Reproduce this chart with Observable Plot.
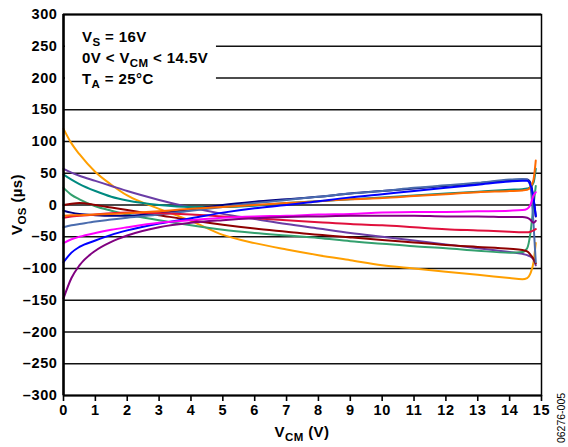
<!DOCTYPE html>
<html>
<head>
<meta charset="utf-8">
<script src="https://cdn.jsdelivr.net/npm/d3@7"></script>
<script src="https://cdn.jsdelivr.net/npm/@observablehq/plot@0.6"></script>
<style>
  html, body { margin: 0; padding: 0; background: #fff; }
  svg { font-family: "Liberation Sans", Arial, sans-serif; }
  g[aria-label="x-axis tick label"] text, g[aria-label="y-axis tick label"] text { letter-spacing: 0.6px; }
</style>
</head>
<body>
<div id="chart"></div>
<script>
// Common-mode voltage sample points (V)
const vcm = [0, 0.25, 0.5, 1, 1.5, 2, 3, 4, 5, 6, 7, 8, 9, 10, 11, 12, 13, 14, 14.4, 14.55, 14.65, 14.75, 14.82];

// VOS per unit
const sOrange      = [120, 97, 80, 52, 32, 15, -6, -25, -47, -60, -70, -79, -87, -95, -100, -105, -110, -115, -117, -115, -108, -90, -60];
const sRebecca     = [57, 51, 46, 38, 30, 22, 8, -4, -14, -22, -30, -37, -44, -50, -56, -62, -68, -74, -77, -79, -81, -86, -95];
const sTeal        = [48, 40, 33, 22, 13, 7, 0, -3, -3, -1, 3, 6, 9, 12, 15, 18, 21, 24, 25, 26, 28, 35, 57];
const sSeaGreen    = [27, 16, 9, -2, -9, -15, -24, -32, -39, -44, -48, -52, -57, -61, -65, -68, -72, -75, -74, -68, -45, 0, 30];
const sDarkRed     = [0, 2, 3, 0, -4, -8, -16, -24, -31, -37, -42, -47, -51, -55, -59, -63, -66, -69, -71, -73, -78, -85, -92];
const sNavy        = [-9, -12, -14, -16, -17, -17, -13, -7, 0, 5, 9, 13, 18, 22, 26, 30, 34, 39, 40, 40, 35, 10, -18];
const sSteel       = [-35, -32, -30, -26, -23, -20, -15, -9, -3, 3, 8, 13, 18, 22, 27, 31, 35, 40, 41, 40, 30, -30, -90];
const sCrimson     = [-20, -18, -17, -15, -13, -12, -13, -15, -18, -21, -24, -27, -30, -32, -35, -38, -40, -42, -43, -43, -42, -40, -38];
const sDarkOrange  = [-17, -16, -16, -15, -14, -13, -10, -6, -3, 0, 3, 6, 9, 11, 14, 17, 20, 22, 23, 24, 28, 40, 70];
const sBlue        = [-90, -75, -66, -56, -47, -40, -29, -21, -12, -5, 0, 6, 12, 17, 22, 27, 32, 37, 38, 38, 32, 10, -17];
const sMagenta     = [-60, -54, -50, -44, -39, -35, -28, -24, -20, -18, -17, -15, -14, -12, -11, -11, -10, -9, -8, -6, 0, 15, 20];
const sPurple      = [-147, -115, -95, -72, -58, -48, -35, -28, -24, -21, -19, -18, -17, -17, -17, -18, -18, -19, -19, -20, -23, -28, -25];

const seriesNames  = ["orange", "rebecca", "teal", "seagreen", "darkred", "navy", "steel", "crimson", "darkorange", "blue", "magenta", "purple"];
const seriesValues = [sOrange, sRebecca, sTeal, sSeaGreen, sDarkRed, sNavy, sSteel, sCrimson, sDarkOrange, sBlue, sMagenta, sPurple];
const seriesColors = ["#FF9F00", "#6A3DA6", "#008A80", "#33A06E", "#8E0000", "#000080", "#4A6CAE", "#E0103C", "#FF6A00", "#0000FF", "#FF00FF", "#800080"];

const xTicks = d3.range(0, 16);
const yTicks = d3.range(-300, 301, 50);

const table = seriesNames.flatMap((name, i) =>
  vcm.map((x, j) => ({x, y: seriesValues[i][j], k: name})));

const fmt = d => d < 0 ? "\u2013" + (-d) : String(d);

const plot = Plot.plot({
  width: 568,
  height: 447,
  marginLeft: 63,
  marginRight: 27,
  marginTop: 14,
  marginBottom: 52,
  style: {fontFamily: "'Liberation Sans', Arial, sans-serif", background: "#fff"},
  x: {domain: [0, 15], label: null},
  y: {domain: [-300, 300], label: null},
  color: {domain: seriesNames, range: seriesColors},
  marks: [
    Plot.ruleY(yTicks.filter(d => d !== -300 && d !== 300), {stroke: "#111", strokeWidth: 1.4}),
    Plot.line(table, {x: "x", y: "y", z: "k", stroke: "k", strokeWidth: 2, curve: "monotone-x"}),
    Plot.frame({stroke: "#000", strokeWidth: 1.5}),
    Plot.ruleX([0], {stroke: "#000", strokeWidth: 2.5}),
    Plot.ruleY([-300, 300], {stroke: "#000", strokeWidth: 2.2}),
    Plot.axisX({ticks: xTicks, tickSize: 6, tickPadding: 3, strokeWidth: 1.6, fontSize: 14.5, fontWeight: "bold", tickFormat: d => String(d), label: null}),
    Plot.axisY({ticks: yTicks, tickSize: 0, tickPadding: 6, fontSize: 14.5, fontWeight: "bold", tickFormat: fmt, label: null})
  ]
});

document.getElementById("chart").appendChild(plot);

const svg = d3.select(plot);
const xs = plot.scale("x");
const ys = plot.scale("y");
const font = "'Liberation Sans', Arial, sans-serif";

// White annotation background covering the gridlines
svg.append("rect")
  .attr("x", xs.apply(0) + 2)
  .attr("y", ys.apply(290))
  .attr("width", xs.apply(4.8) - xs.apply(0) - 2)
  .attr("height", ys.apply(180) - ys.apply(290))
  .attr("fill", "#fff");

function subText(x, y, parts, opts = {}) {
  const t = svg.append("text")
    .attr("x", x).attr("y", y)
    .attr("font-family", font)
    .attr("font-weight", "bold")
    .attr("font-size", opts.size || 15)
    .attr("letter-spacing", opts.ls || "0.4px")
    .attr("fill", "#000")
    .attr("text-anchor", opts.anchor || "start");
  if (opts.transform) t.attr("transform", opts.transform);
  let shifted = false;
  const sub = opts.sub || 11.5;
  for (const [s, isSub] of parts) {
    const ts = t.append("tspan").text(s);
    if (isSub && !shifted) { ts.attr("dy", 4).attr("font-size", sub); shifted = true; }
    else if (!isSub && shifted) { ts.attr("dy", -4); shifted = false; }
    else if (isSub) ts.attr("font-size", sub);
  }
  return t;
}

const ax = xs.apply(0) + 19;
subText(ax, 42, [["V", false], ["S", true], [" = 16V", false]]);
subText(ax, 63, [["0V < V", false], ["CM", true], [" < 14.5V", false]]);
subText(ax, 84, [["T", false], ["A", true], [" = 25\u00B0C", false]]);

// Axis titles
const xc = (xs.apply(0) + xs.apply(15)) / 2;
subText(xc, 437, [["V", false], ["CM", true], [" (V)", false]], {anchor: "middle"});
const yc = (ys.apply(-300) + ys.apply(300)) / 2;
subText(0, 0, [["V", false], ["OS", true], [" (\u00B5s)", false]], {anchor: "middle", transform: `translate(22,${yc}) rotate(-90)`});

// Figure code
svg.append("text")
  .attr("transform", `translate(565,418) rotate(-90)`)
  .attr("text-anchor", "middle")
  .attr("font-family", font)
  .attr("font-size", 10.5)
  .attr("fill", "#000")
  .text("06276-005");
</script>
</body>
</html>
